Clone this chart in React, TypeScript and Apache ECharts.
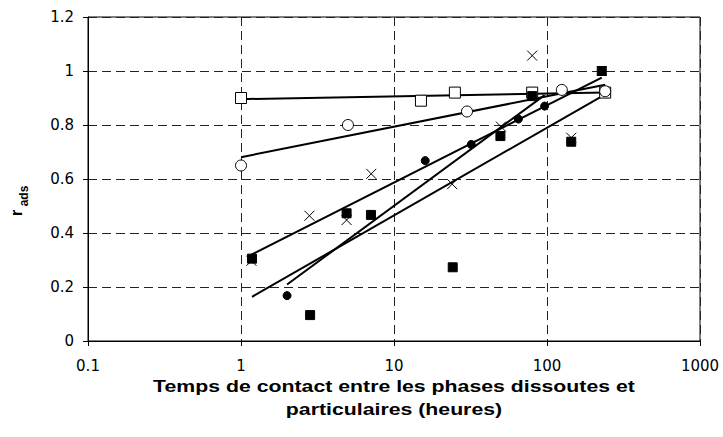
import React, { useEffect, useRef } from "react";
import * as echarts from "echarts";

// Data
const openSquareX = [1, 15, 25, 80, 240];
const openSquareY = [0.9, 0.89, 0.92, 0.92, 0.92];

const openCircleX = [1, 5, 30, 125, 240];
const openCircleY = [0.65, 0.8, 0.85, 0.93, 0.925];

const crossX = [1.17, 2.8, 4.9, 7.1, 24, 50, 80, 144, 228];
const crossY = [0.297, 0.464, 0.448, 0.619, 0.581, 0.794, 1.057, 0.753, 1.0];

const filledCircleX = [2.0, 16, 32, 65, 96.5];
const filledCircleY = [0.168, 0.668, 0.728, 0.822, 0.87];

const filledSquareX = [1.18, 2.83, 4.9, 7.07, 24.2, 49.6, 80, 144, 228];
const filledSquareY = [0.305, 0.096, 0.473, 0.467, 0.273, 0.759, 0.907, 0.738, 1.0];

const xTicks = [0.1, 1, 10, 100, 1000];
const yTicks = [0, 0.2, 0.4, 0.6, 0.8, 1, 1.2];

const xTitleLines = ["Temps de contact entre les phases dissoutes et", "particulaires (heures)"];
const yTitleMain = "r";
const yTitleSub = "ads";

// logarithmic trend line (least squares on log10 x)
function trend(xs: number[], ys: number[]) {
  const lx = xs.map((v) => Math.log10(v));
  const n = xs.length;
  const mx = lx.reduce((a, b) => a + b, 0) / n;
  const my = ys.reduce((a, b) => a + b, 0) / n;
  let sxy = 0;
  let sxx = 0;
  for (let i = 0; i < n; i++) {
    sxy += (lx[i] - mx) * (ys[i] - my);
    sxx += (lx[i] - mx) * (lx[i] - mx);
  }
  const b = sxy / sxx;
  const a = my - b * mx;
  const xmin = Math.min(...xs);
  const xmax = Math.max(...xs);
  return [
    [xmin, a + b * Math.log10(xmin)],
    [xmax, a + b * Math.log10(xmax)],
  ];
}

const pairs = (xs: number[], ys: number[]) => xs.map((x, i) => [x, ys[i]]);

export default function App() {
  const ref = useRef<HTMLDivElement>(null);

  useEffect(() => {
    document.body.style.margin = "0";
    if (!ref.current) return;
    const chart = echarts.init(ref.current, undefined, { renderer: "svg" });

    const datasets = [
      { name: "openSquare", xs: openSquareX, ys: openSquareY, symbol: "rect", size: 11, fill: "#fff" },
      { name: "openCircle", xs: openCircleX, ys: openCircleY, symbol: "circle", size: 11, fill: "#fff" },
      { name: "cross", xs: crossX, ys: crossY, symbol: "path://M0,0L10,10M10,0L0,10", size: 10, fill: "none" },
      { name: "filledCircle", xs: filledCircleX, ys: filledCircleY, symbol: "circle", size: 8, fill: "#000" },
      { name: "filledSquare", xs: filledSquareX, ys: filledSquareY, symbol: "rect", size: 9, fill: "#000" },
    ];

    const series: any[] = [];
    datasets.forEach((d) => {
      series.push({
        type: "line",
        name: d.name + "Trend",
        data: trend(d.xs, d.ys),
        symbol: "none",
        lineStyle: { color: "#000", width: 2 },
        z: 2,
        silent: true,
      });
    });
    datasets.forEach((d) => {
      series.push({
        type: "scatter",
        name: d.name,
        data: pairs(d.xs, d.ys),
        symbol: d.symbol,
        symbolSize: d.size,
        itemStyle: { color: d.fill, borderColor: "#000", borderWidth: 1, opacity: 1 },
        z: 3,
      });
    });

    const labelFont = { fontFamily: "DejaVu Sans", fontSize: 15, color: "#000" };
    const titleStyle = {
      fontFamily: "Liberation Sans",
      fontWeight: "bold",
      fontSize: 16,
      fill: "#000",
      align: "center",
      verticalAlign: "middle",
    };

    chart.setOption({
      animation: false,
      backgroundColor: "#fff",
      grid: {
        left: 88,
        top: 17,
        right: 23,
        bottom: 96,
        show: true,
        borderColor: "#000",
        borderWidth: 1,
        backgroundColor: "transparent",
      },
      xAxis: {
        type: "log",
        logBase: 10,
        min: xTicks[0],
        max: xTicks[xTicks.length - 1],
        axisLine: { show: true, lineStyle: { color: "#000", width: 1 } },
        axisTick: { show: true, inside: false, length: 5, lineStyle: { color: "#000" } },
        minorTick: { show: false },
        axisLabel: { ...labelFont, margin: 17, formatter: (v: number) => String(+v.toPrecision(6)) },
        splitLine: { show: true, lineStyle: { color: "#222", type: [9, 5], width: 1 } },
      },
      yAxis: {
        type: "value",
        min: yTicks[0],
        max: yTicks[yTicks.length - 1],
        interval: 0.2,
        axisLine: { show: true, lineStyle: { color: "#000", width: 1 } },
        axisTick: { show: true, inside: false, length: 5, lineStyle: { color: "#000" } },
        axisLabel: { ...labelFont, margin: 14, formatter: (v: number) => String(+v.toFixed(1)) },
        splitLine: { show: true, lineStyle: { color: "#222", type: [9, 5], width: 1 } },
      },
      graphic: [
        { type: "text", x: 394, y: 386, scaleX: 1.33, style: { ...titleStyle, text: xTitleLines[0] } },
        { type: "text", x: 394, y: 409, scaleX: 1.33, style: { ...titleStyle, text: xTitleLines[1] } },
        {
          type: "text",
          x: 16,
          y: 213,
          rotation: Math.PI / 2,
          style: { ...titleStyle, fontSize: 17, text: yTitleMain },
        },
        {
          type: "text",
          x: 24,
          y: 196,
          rotation: Math.PI / 2,
          style: { ...titleStyle, fontSize: 12, text: yTitleSub },
        },
      ],
      series,
    });

    return () => {
      chart.dispose();
    };
  }, []);

  return <div ref={ref} style={{ width: 723, height: 437 }} />;
}
